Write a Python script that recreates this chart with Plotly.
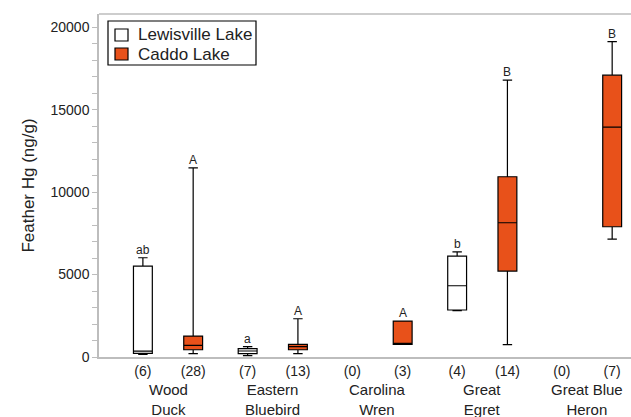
import plotly.graph_objects as go

groups = ["Wood<br>Duck", "Eastern<br>Bluebird", "Carolina<br>Wren", "Great<br>Egret", "Great Blue<br>Heron"]

# Lewisville Lake (None = no data)
lew_n = [6, 7, 0, 4, 0]
lew_low = [160, 80, None, 2810, None]
lew_q1 = [220, 200, None, 2850, None]
lew_med = [360, 365, None, 4320, None]
lew_q3 = [5515, 505, None, 6120, None]
lew_high = [6020, 625, None, 6380, None]
lew_letters = ["ab", "a", "", "b", ""]

# Caddo Lake
cad_n = [28, 13, 3, 14, 7]
cad_low = [200, 200, 770, 750, 7150]
cad_q1 = [440, 440, 770, 5210, 7900]
cad_med = [710, 625, 800, 8140, 13940]
cad_q3 = [1270, 770, 2180, 10930, 17090]
cad_high = [11470, 2320, 2180, 16790, 19130]
cad_letters = ["A", "A", "A", "B", "B"]

series_names = ["Lewisville Lake", "Caddo Lake"]

FONT = "Liberation Sans, Arial, sans-serif"
ORANGE = "#E8511A"
FILLS = ["white", ORANGE]
OFF = 0.24
BW = 0.18
AXIS = "#bdbdbd"

fig = go.Figure()

def add_series(name, fill, low, q1, med, q3, high, sign):
    xs, L, Q1, M, Q3, H = [], [], [], [], [], []
    for i in range(len(groups)):
        if med[i] is None:
            continue
        xs.append(i + sign * OFF)
        L.append(low[i]); Q1.append(q1[i]); M.append(med[i]); Q3.append(q3[i]); H.append(high[i])
    fig.add_trace(go.Box(
        name=name, x=xs, lowerfence=L, q1=Q1, median=M, q3=Q3, upperfence=H,
        fillcolor=fill, line=dict(color="black", width=1.2), width=BW,
        whiskerwidth=0.5, boxpoints=False, hoverinfo="skip", showlegend=False,
    ))

add_series(series_names[0], FILLS[0], lew_low, lew_q1, lew_med, lew_q3, lew_high, -1)
add_series(series_names[1], FILLS[1], cad_low, cad_q1, cad_med, cad_q3, cad_high, +1)

annotations = []
for i in range(len(groups)):
    for sign, letters, high in [(-1, lew_letters, lew_high), (1, cad_letters, cad_high)]:
        if letters[i] and high[i] is not None:
            annotations.append(dict(x=i + sign * OFF, y=high[i], xref="x", yref="y",
                                    text=letters[i], showarrow=False, yanchor="bottom",
                                    yshift=-1, font=dict(size=12, color="#222", family=FONT)))
    annotations.append(dict(x=i, y=0, xref="x", yref="paper", text=groups[i],
                            showarrow=False, yanchor="top", yshift=-22,
                            font=dict(size=15, color="#222", family=FONT)))

# custom legend (pixel layout converted to paper coords)
W = 634
PL, PB, PH = 99, 357, 343
PW = W - PL
def px(x): return (x - PL) / PW
def py(y): return (PB - y) / PH

shapes = [
    dict(type="line", xref="paper", yref="paper", x0=0, x1=1, y0=1, y1=1,
         line=dict(color=AXIS, width=1.5)),
    dict(type="rect", xref="paper", yref="paper", x0=px(108), x1=px(256), y0=py(65), y1=py(21),
         line=dict(color="black", width=1.2), fillcolor="white", layer="above"),
]
for k, (nm, fc) in enumerate(zip(series_names, FILLS)):
    top = 29 + k * 19
    shapes.append(dict(type="rect", xref="paper", yref="paper", x0=px(115), x1=px(128),
                       y0=py(top + 12), y1=py(top), line=dict(color="black", width=1.2),
                       fillcolor=fc, layer="above"))
    annotations.append(dict(x=px(136), y=py(top + 6), xref="paper", yref="paper", text=nm,
                            showarrow=False, xanchor="left", yanchor="middle",
                            font=dict(size=17, color="#222", family=FONT)))

tickvals, ticktext = [], []
for i in range(len(groups)):
    tickvals += [i - OFF, i + OFF]
    ticktext += [f"({lew_n[i]})", f"({cad_n[i]})"]

X0 = -0.659
fig.update_layout(
    width=W, height=417,
    margin=dict(l=PL, r=0, t=14, b=60),
    paper_bgcolor="white", plot_bgcolor="white",
    font=dict(family=FONT, size=13, color="#222"),
    showlegend=False,
    annotations=annotations,
    shapes=shapes,
    xaxis=dict(range=[X0, X0 + PW / 104.75], tickvals=tickvals, ticktext=ticktext,
               showgrid=False, zeroline=False, showline=True, mirror=False,
               linecolor=AXIS, linewidth=1.5, ticks="",
               tickfont=dict(size=14, color="#222")),
    yaxis=dict(range=[0, 20800], tickvals=[0, 5000, 10000, 15000, 20000], tickformat="d",
               showgrid=False, zeroline=False, showline=True, mirror=False,
               linecolor=AXIS, linewidth=1.5, ticks="outside", ticklen=5,
               tickcolor=AXIS, minor=dict(dtick=1000, ticks="outside", ticklen=5, tickcolor=AXIS, showgrid=False),
               title=dict(text="Feather Hg (ng/g)", font=dict(size=17, color="#222"), standoff=12),
               tickfont=dict(size=14, color="#222")),
)

fig.write_html("out.html", config={"displayModeBar": False},
               post_script="document.body.style.margin='0';document.body.style.overflow='hidden';")
